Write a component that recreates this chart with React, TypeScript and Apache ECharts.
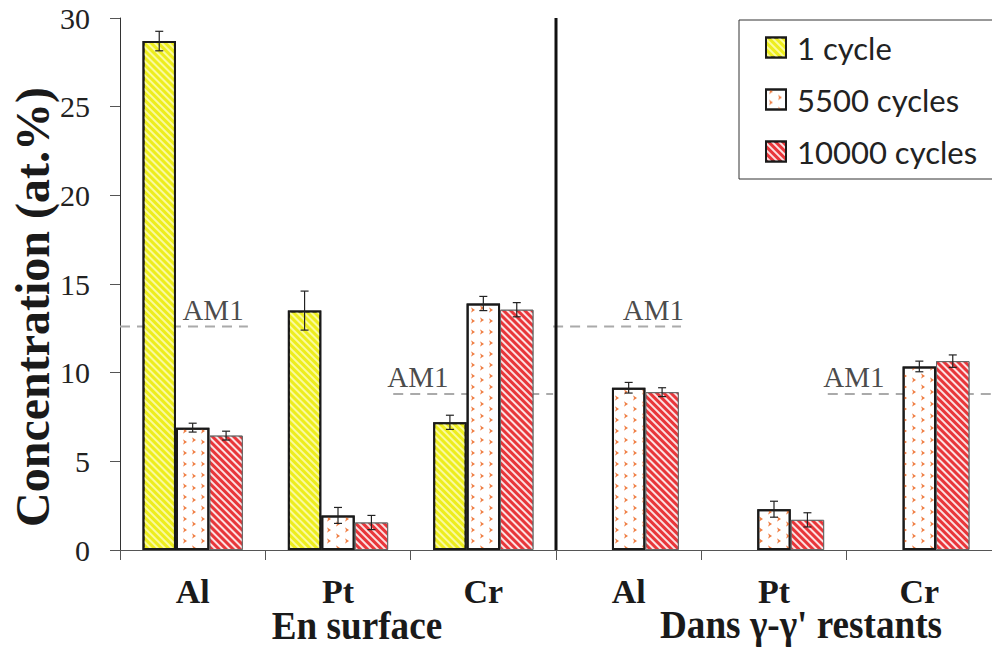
import React, { useEffect, useRef } from "react";
import * as echarts from "echarts";

const categories = ["Al", "Pt", "Cr", "Al", "Pt", "Cr"];
const seriesNames = ["1 cycle", "5500 cycles", "10000 cycles"];
const cycle1 = [28.7, 13.5, 7.2, null, null, null];
const cycle1Err = [0.55, 1.1, 0.4, null, null, null];
const cycles5500 = [6.9, 1.95, 13.9, 9.15, 2.3, 10.35];
const cycles5500Err = [0.25, 0.45, 0.4, 0.3, 0.45, 0.3];
const cycles10000 = [6.45, 1.55, 13.55, 8.9, 1.7, 10.65];
const cycles10000Err = [0.25, 0.4, 0.4, 0.25, 0.4, 0.35];
const yTicks = [0, 5, 10, 15, 20, 25, 30];

// AM1 reference levels (value) and spans along the category index scale (0..6)
const am1Values = [12.6, 8.8, 12.6, 8.8];
const am1Spans = [
  [0, 0.88],
  [1.88, 2.98],
  [2.98, 3.86],
  [4.87, 6],
];
const am1LabelAt = [0.64, 2.05, 3.67, 5.05];
const separatorAt = 3;
const groupLabels = ["En surface", "Dans γ-γ' restants"];

const BAR_GAP_RATIO = 0.31;

const serif = "'Liberation Serif', 'Times New Roman', serif";

export default function App() {
  const ref = useRef<HTMLDivElement>(null);

  useEffect(() => {
    if (!ref.current) return;
    const chart = echarts.init(ref.current, null, { renderer: "svg" });

    const values = [cycle1, cycles5500, cycles10000];
    const errs = [cycle1Err, cycles5500Err, cycles10000Err];

    const barStyles: any[] = [
      {
        color: "#eded1e",
        borderColor: "#1a1a1a",
        borderWidth: 2,
        decal: {
          symbol: "rect",
          symbolSize: 1,
          color: "rgba(255,255,200,0.75)",
          dashArrayX: [1, 0],
          dashArrayY: [1.5, 3],
          rotation: Math.PI / 4,
        },
      },
      {
        color: "#ffffff",
        borderColor: "#1a1a1a",
        borderWidth: 2,
        decal: {
          symbol: "arrow",
          symbolSize: 1,
          color: "#ef7f45",
          dashArrayX: [[4, 7], [0, 5.5, 4, 1.5]],
          dashArrayY: [4, 5],
          rotation: Math.PI / 2,
        },
      },
      {
        color: "#e8363a",
        borderColor: "#666666",
        borderWidth: 1,
        decal: {
          symbol: "rect",
          symbolSize: 1,
          color: "rgba(255,255,255,0.85)",
          dashArrayX: [1, 0],
          dashArrayY: [1.6, 2.4],
          rotation: Math.PI / 4,
        },
      },
    ];

    const barSeries = seriesNames.map((name, i) => ({
      name,
      type: "bar",
      xAxisIndex: 0,
      yAxisIndex: 0,
      data: values[i],
      barGap: "0%",
      barCategoryGap: BAR_GAP_RATIO * 100 + "%",
      itemStyle: barStyles[i],
      z: 2,
    }));

    const errSeries = seriesNames.map((name, i) => ({
      type: "custom",
      name: name + " err",
      xAxisIndex: 0,
      yAxisIndex: 0,
      z: 5,
      silent: true,
      data: values[i]
        .map((v, k) => (v == null ? null : [k, v, errs[i][k]]))
        .filter((d) => d != null),
      renderItem: (params: any, api: any) => {
        const x = api.value(0);
        const y = api.value(1);
        const e = api.value(2);
        const catW = api.size([1, 0])[0];
        const barW = (catW * (1 - BAR_GAP_RATIO)) / 3;
        const cx = api.coord([x, y])[0] + (i - 1) * barW;
        const top = api.coord([x, y + e])[1];
        const bot = api.coord([x, y - e])[1];
        const cap = 4;
        const style = { stroke: "#222", lineWidth: 1.2 };
        return {
          type: "group",
          children: [
            { type: "line", shape: { x1: cx, y1: top, x2: cx, y2: bot }, style },
            { type: "line", shape: { x1: cx - cap, y1: top, x2: cx + cap, y2: top }, style },
            { type: "line", shape: { x1: cx - cap, y1: bot, x2: cx + cap, y2: bot }, style },
          ],
        };
      },
    }));

    const am1Series = am1Values.map((v, k) => ({
      type: "line",
      xAxisIndex: 1,
      yAxisIndex: 0,
      symbol: "none",
      silent: true,
      z: 1,
      lineStyle: { color: "#aaaaaa", width: 2, type: [10, 7] },
      data: [
        [am1Spans[k][0], v],
        [am1Spans[k][1], v],
      ],
    }));

    const am1LabelSeries = {
      type: "scatter",
      xAxisIndex: 1,
      yAxisIndex: 0,
      symbolSize: 0,
      silent: true,
      z: 6,
      label: {
        show: true,
        position: "top",
        distance: 2,
        formatter: "AM1",
        fontFamily: serif,
        fontSize: 29,
        color: "#1a1a1a",
      },
      data: am1Values.map((v, k) => [am1LabelAt[k], v]),
    };

    const separatorSeries = {
      type: "line",
      xAxisIndex: 1,
      yAxisIndex: 0,
      symbol: "none",
      silent: true,
      z: 4,
      lineStyle: { color: "#111", width: 3 },
      data: [
        [separatorAt, yTicks[0]],
        [separatorAt, yTicks[yTicks.length - 1]],
      ],
    };

    chart.setOption({
      animation: false,
      backgroundColor: "#ffffff",
      grid: { left: 120, top: 18, width: 883, height: 532, containLabel: false },
      legend: {
        data: seriesNames,
        orient: "vertical",
        left: 739,
        top: 20,
        padding: [12, 80, 12, 26],
        itemWidth: 20,
        itemHeight: 20,
        itemGap: 21,
        icon: "rect",
        borderColor: "#333",
        borderWidth: 1,
        borderRadius: 0,
        backgroundColor: "#fff",
        itemStyle: { borderColor: "#1a1a1a", borderWidth: 2 },
        textStyle: {
          fontFamily: "Lato, 'Open Sans', sans-serif",
          fontSize: 31,
          color: "#222",
          lineHeight: 30,
          padding: [0, 0, 0, 6],
        },
      },
      xAxis: [
        {
          type: "category",
          data: categories,
          axisLine: { lineStyle: { color: "#555", width: 1 } },
          axisTick: { show: true, alignWithLabel: false, length: 10, lineStyle: { color: "#555" } },
          axisLabel: {
            margin: 24,
            fontFamily: serif,
            fontWeight: "bold",
            fontSize: 34,
            color: "#1a1a1a",
          },
          splitLine: { show: false },
        },
        {
          type: "value",
          min: 0,
          max: 6,
          show: false,
          splitLine: { show: false },
        },
      ],
      yAxis: {
        type: "value",
        min: yTicks[0],
        max: yTicks[yTicks.length - 1],
        interval: 5,
        axisLine: { show: true, lineStyle: { color: "#333", width: 1 } },
        axisTick: { show: true, length: 10, lineStyle: { color: "#555" } },
        axisLabel: {
          margin: 30,
          fontFamily: serif,
          fontSize: 30,
          color: "#222",
        },
        splitLine: { show: false },
      },
      graphic: [
        {
          type: "text",
          x: 32,
          y: 307,
          rotation: Math.PI / 2,
          style: {
            text: "Concentration (at.%)",
            font: "bold 48px " + serif,
            fill: "#1a1a1a",
            align: "center",
            verticalAlign: "middle",
          },
        },
        {
          type: "text",
          x: 357,
          y: 626,
          scaleX: 0.93,
          style: {
            text: groupLabels[0],
            font: "bold 40px " + serif,
            fill: "#1a1a1a",
            align: "center",
            verticalAlign: "middle",
          },
        },
        {
          type: "text",
          x: 801,
          y: 625,
          scaleX: 0.93,
          style: {
            text: groupLabels[1],
            font: "bold 40px " + serif,
            fill: "#1a1a1a",
            align: "center",
            verticalAlign: "middle",
          },
        },
      ],
      series: [...barSeries, ...errSeries, ...am1Series, am1LabelSeries, separatorSeries],
    });

    return () => chart.dispose();
  }, []);

  return (
    <div
      ref={ref}
      style={{ position: "fixed", left: 0, top: 0, width: 992, height: 648 }}
    />
  );
}
